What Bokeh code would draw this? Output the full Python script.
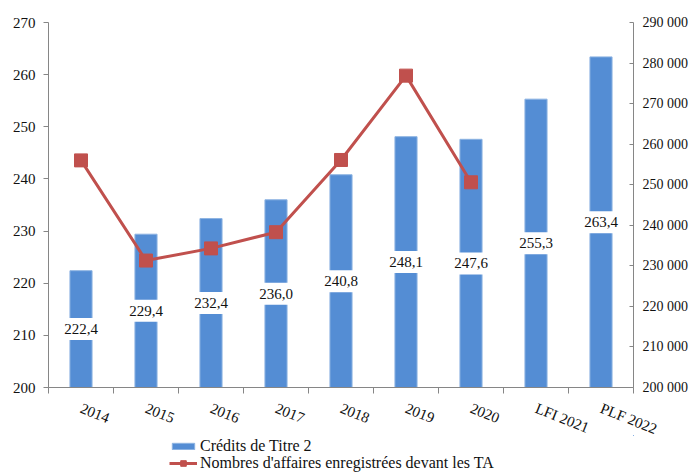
from bokeh.plotting import figure
from bokeh.layouts import column
from bokeh.models import (Range1d, LinearAxis, FixedTicker, CustomJSTickFormatter,
                          Legend, LegendItem)
from bokeh.embed import file_html
from bokeh.resources import INLINE
from bokeh.core.properties import value

categories = ["2014", "2015", "2016", "2017", "2018", "2019", "2020", "LFI 2021", "PLF 2022"]
credits = [222.4, 229.4, 232.4, 236.0, 240.8, 248.1, 247.6, 255.3, 263.4]
affaires = [256000, 231300, 234300, 238300, 256100, 276900, 250600]
left_ticks = [200, 210, 220, 230, 240, 250, 260, 270]
right_ticks = [200000, 210000, 220000, 230000, 240000, 250000, 260000, 270000, 280000, 290000]
legend_labels = ["Crédits de Titre 2", "Nombres d'affaires enregistrées devant les TA"]

BAR = "#548DD4"
BAR_EDGE = "#8DB3E2"
RED = "#C0504D"
AXIS = "#868686"
TXT = "#111111"
SERIF = "Liberation Serif"
W = 693

x = list(range(len(categories)))
x_aff = x[:len(affaires)]
bar_labels = [f"{v:.1f}".replace(".", ",") for v in credits]
bar_mid = [(left_ticks[0] + v) / 2 for v in credits]

p = figure(width=W, height=447, output_backend="svg", toolbar_location=None,
           x_range=Range1d(-0.5, len(categories) - 0.5),
           y_range=Range1d(left_ticks[0], left_ticks[-1]),
           min_border_left=48, min_border_right=60, min_border_top=22, min_border_bottom=51)
p.extra_y_ranges = {"aff": Range1d(right_ticks[0], right_ticks[-1])}
p.outline_line_color = None
p.xgrid.visible = False
p.ygrid.visible = False

p.vbar(x=x, top=credits, bottom=left_ticks[0], width=0.34,
       fill_color=BAR, line_color=BAR_EDGE, line_width=1)
p.text(x=x, y=bar_mid, text=bar_labels, text_font=value(SERIF), text_font_size="15px",
       text_align="center", text_baseline="middle", text_color=TXT,
       background_fill_color="white", padding=6)

p.line(x=x_aff, y=affaires, y_range_name="aff", line_color=RED, line_width=3)
p.scatter(x=x_aff, y=affaires, y_range_name="aff", marker="square", size=13,
          fill_color=RED, line_color=RED)

# axes
xa = p.xaxis[0]
xa.ticker = FixedTicker(ticks=x, minor_ticks=[i - 0.5 for i in range(len(categories) + 1)])
xa.formatter = CustomJSTickFormatter(args=dict(cats=categories),
                                     code="return cats[Math.round(tick)] || '';")
xa.major_tick_out = 0
xa.major_tick_in = 0
xa.minor_tick_out = 6
xa.minor_tick_in = 0
xa.minor_tick_line_color = AXIS
xa.axis_line_color = AXIS
xa.major_label_orientation = -0.38
xa.major_label_standoff = 14
xa.major_label_text_font = SERIF
xa.major_label_text_font_size = "15px"
xa.major_label_text_color = TXT

ya = p.yaxis[0]
ya.ticker = FixedTicker(ticks=left_ticks)
ya.major_tick_out = 5
ya.major_tick_in = 0
ya.minor_tick_out = 0
ya.minor_tick_in = 0
ya.axis_line_color = AXIS
ya.major_tick_line_color = AXIS
ya.major_label_text_font = SERIF
ya.major_label_text_font_size = "15px"
ya.major_label_text_color = TXT
ya.major_label_standoff = 8

ra = LinearAxis(y_range_name="aff")
ra.ticker = FixedTicker(ticks=right_ticks)
ra.formatter = CustomJSTickFormatter(code="""
var s = Math.round(tick).toString();
return s.slice(0, s.length - 3) + ' ' + s.slice(-3);
""")
ra.major_tick_out = 0
ra.major_tick_in = 4
ra.minor_tick_out = 0
ra.minor_tick_in = 0
ra.axis_line_color = AXIS
ra.major_tick_line_color = AXIS
ra.major_label_text_font = SERIF
ra.major_label_text_font_size = "14px"
ra.major_label_text_color = TXT
ra.major_label_standoff = 9
p.add_layout(ra, "right")

# legend strip below the chart; its renderers reuse the data but lie outside its ranges
lg = figure(width=W, height=37, output_backend="svg", toolbar_location=None,
            x_axis_type=None, y_axis_type=None,
            min_border_left=0, min_border_right=0, min_border_top=0, min_border_bottom=0,
            x_range=Range1d(-1000, -999), y_range=Range1d(-1000, -999))
lg.margin = (-12, 0, 0, 0)
lg.outline_line_color = None
lg.border_fill_alpha = 0
lg.background_fill_alpha = 0
lg.xgrid.visible = False
lg.ygrid.visible = False
r_bar = lg.vbar(x=x, top=credits, bottom=left_ticks[0], width=0.34,
                fill_color=BAR, line_color=BAR_EDGE, line_width=1)
r_ln = lg.line(x=x_aff, y=affaires, line_color=RED, line_width=3)
r_mk = lg.scatter(x=x_aff, y=affaires, marker="square", size=10, fill_color=RED, line_color=RED)

leg1 = Legend(items=[LegendItem(label=legend_labels[0], renderers=[r_bar])],
              location=(121, 17), glyph_width=28, glyph_height=8, label_height=14,
              label_text_font=SERIF, label_text_font_size="16px",
              label_text_color=TXT, label_standoff=3,
              padding=0, margin=0, spacing=0, border_line_color=None,
              background_fill_alpha=0)
leg2 = Legend(items=[LegendItem(label=legend_labels[1], renderers=[r_ln, r_mk])],
              location=(121, 0), glyph_width=28, glyph_height=14, label_height=14,
              label_text_font=SERIF, label_text_font_size="16px",
              label_text_color=TXT, label_standoff=3,
              padding=0, margin=0, spacing=0, border_line_color=None,
              background_fill_alpha=0)
lg.add_layout(leg1, "center")
lg.add_layout(leg2, "center")

layout = column(p, lg, spacing=0)
open("out.html", "w").write(file_html(layout, INLINE))
